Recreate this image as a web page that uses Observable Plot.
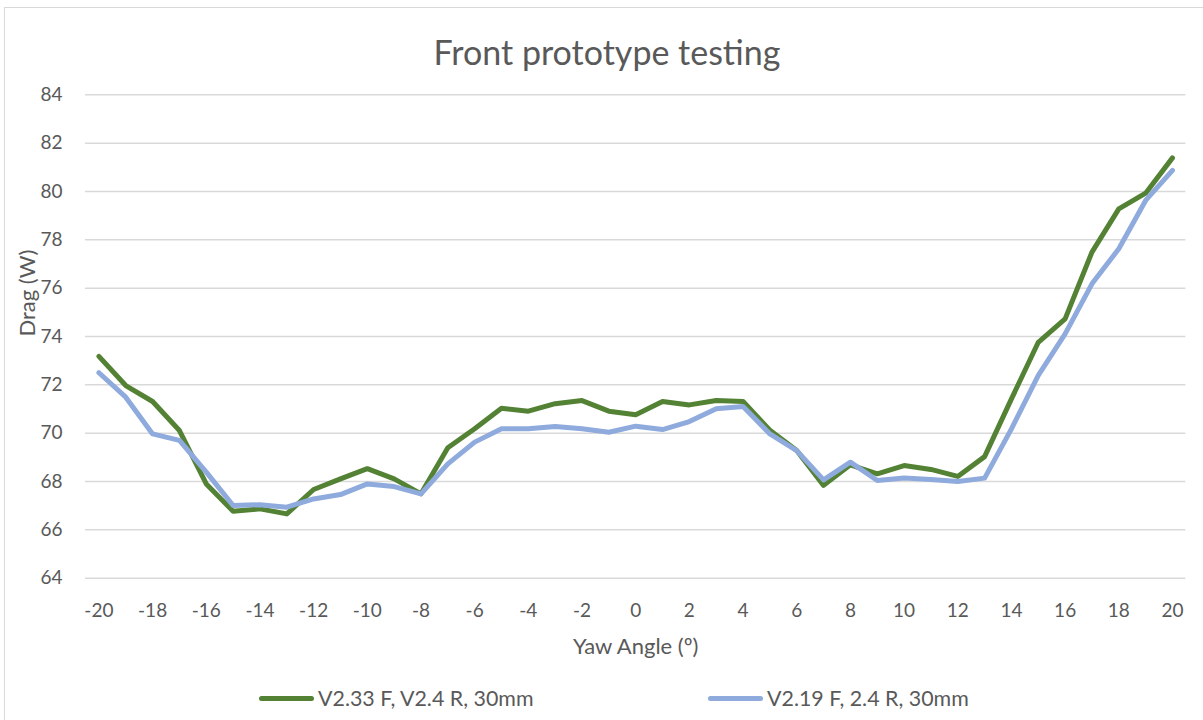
<!DOCTYPE html>
<html>
<head>
<meta charset="utf-8">
<script src="https://cdn.jsdelivr.net/npm/d3@7"></script>
<script src="https://cdn.jsdelivr.net/npm/@observablehq/plot@0.6"></script>
<style>
  html, body { margin: 0; padding: 0; background: #fff; }
  #wrap { position: relative; width: 1203px; height: 720px; overflow: hidden; background: #fff; font-family: Lato, "Open Sans", sans-serif; color: #595959; }
  #frame { position: absolute; left: 4px; top: 7px; width: 1400px; height: 900px; border: 1.5px solid #d9d9d9; box-sizing: border-box; }
  #title { position: absolute; left: 4px; width: 1206px; top: 29px; text-align: center; font-size: 34px; line-height: 46px; color: #595959; }
  #chart { position: absolute; left: 0; top: 70px; }
  #legend { position: absolute; top: 684px; left: 259px; display: flex; font-size: 21.4px; line-height: 28px; color: #595959; }
  .item { display: flex; align-items: center; }
  .sw { width: 55px; height: 5px; border-radius: 3px; margin-right: 4px; }
</style>
</head>
<body>
<div id="wrap">
  <div id="frame"></div>
  <div id="title">Front prototype testing</div>
  <div id="chart"></div>
  <div id="legend"></div>
</div>
<script>
const yaw = [-20,-19,-18,-17,-16,-15,-14,-13,-12,-11,-10,-9,-8,-7,-6,-5,-4,-3,-2,-1,0,1,2,3,4,5,6,7,8,9,10,11,12,13,14,15,16,17,18,19,20];
const seriesNames = ["V2.33 F, V2.4 R, 30mm", "V2.19 F, 2.4 R, 30mm"];
const seriesColors = ["#548235", "#8faadc"];
const dragV233 = [73.18,71.97,71.31,70.11,67.90,66.77,66.87,66.66,67.67,68.11,68.53,68.11,67.49,69.40,70.18,71.03,70.91,71.22,71.35,70.91,70.76,71.31,71.17,71.35,71.31,70.12,69.28,67.84,68.69,68.32,68.66,68.50,68.21,69.03,71.42,73.76,74.73,77.49,79.28,79.93,81.39];
const dragV219 = [72.50,71.49,69.97,69.70,68.39,67.01,67.04,66.94,67.28,67.46,67.90,67.79,67.49,68.73,69.63,70.18,70.18,70.28,70.18,70.04,70.29,70.15,70.48,71.01,71.10,69.97,69.28,68.07,68.80,68.04,68.15,68.08,68.00,68.14,70.18,72.39,74.11,76.18,77.63,79.63,80.87];
const xTicks = [-20,-18,-16,-14,-12,-10,-8,-6,-4,-2,0,2,4,6,8,10,12,14,16,18,20];
const yTicks = [64,66,68,70,72,74,76,78,80,82,84];
const xTitle = "Yaw Angle (º)";
const yTitle = "Drag (W)";

const rows = [];
[dragV233, dragV219].forEach((arr, s) => arr.forEach((v, i) => rows.push({series: seriesNames[s], x: yaw[i], y: v})));

const chart = Plot.plot({
  width: 1203,
  height: 600,
  marginTop: 24.3,
  marginBottom: 92.3,
  marginLeft: 85,
  marginRight: 17.6,
  style: { fontFamily: "Lato, 'Open Sans', sans-serif", fontSize: "19px", color: "#595959", background: "transparent" },
  x: { domain: [-20.5, 20.5], label: null },
  y: { domain: [64, 84], label: null },
  color: { domain: seriesNames, range: seriesColors },
  marks: [
    Plot.gridY(yTicks, { stroke: "#d9d9d9", strokeOpacity: 1, strokeWidth: 1.5 }),
    Plot.axisX({ ticks: xTicks, tickFormat: d => String(d), tickSize: 0, tickPadding: 25, label: null, fill: "#595959", fontSize: 19 }),
    Plot.axisY({ ticks: yTicks, tickFormat: d => String(d), tickSize: 0, tickPadding: 23, label: null, fill: "#595959", fontSize: 19 }),
    Plot.line(rows, { x: "x", y: "y", z: "series", stroke: "series", strokeWidth: 5, strokeLinejoin: "round", strokeLinecap: "round" }),
    Plot.text([xTitle], { frameAnchor: "bottom", dy: 76, fill: "#595959", fontSize: 22 }),
    Plot.text([yTitle], { frameAnchor: "left", dx: -58, rotate: -90, fill: "#595959", fontSize: 22 })
  ]
});
document.getElementById("chart").appendChild(chart);

const legend = document.getElementById("legend");
seriesNames.forEach((name, i) => {
  const item = document.createElement("div");
  item.className = "item";
  if (i === 0) item.style.width = "449px";
  const sw = document.createElement("div");
  sw.className = "sw";
  sw.style.background = seriesColors[i];
  const lab = document.createElement("span");
  lab.textContent = name;
  item.appendChild(sw);
  item.appendChild(lab);
  legend.appendChild(item);
});
</script>
</body>
</html>
